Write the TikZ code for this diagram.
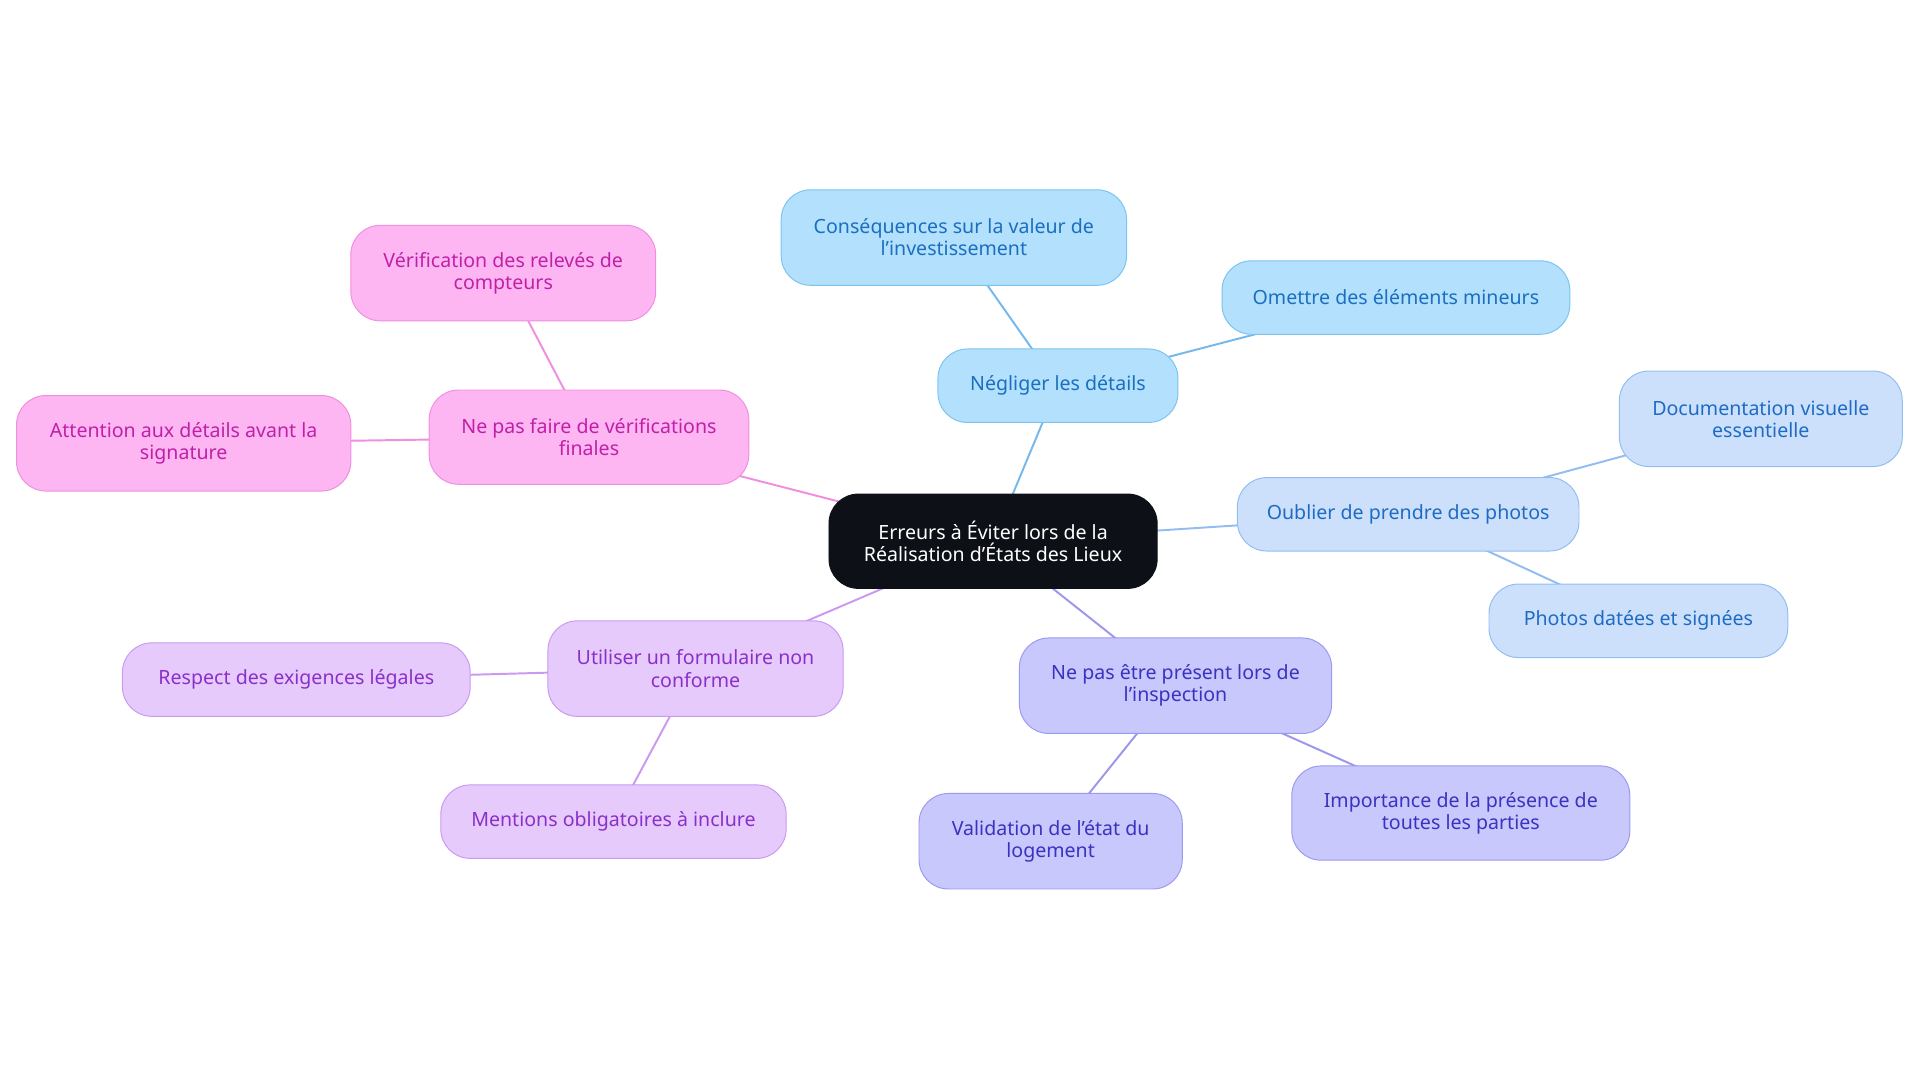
\documentclass[tikz,border=0pt]{standalone}
\usepackage{fontspec}
\setmainfont{Noto Sans}
\usetikzlibrary{backgrounds}
\definecolor{cBfill}{HTML}{B3E0FC}\definecolor{cBdraw}{HTML}{7CC4F0}\definecolor{cBtext}{HTML}{1A6FC0}\definecolor{cBline}{HTML}{76B8EC}
\definecolor{cLfill}{HTML}{CCE0FB}\definecolor{cLdraw}{HTML}{92BDF0}\definecolor{cLtext}{HTML}{1E6BC4}\definecolor{cLline}{HTML}{92BDF0}
\definecolor{cPfill}{HTML}{C8C8FC}\definecolor{cPdraw}{HTML}{9A9AF0}\definecolor{cPtext}{HTML}{3A32C0}\definecolor{cPline}{HTML}{9B97EE}
\definecolor{cVfill}{HTML}{E6CAFC}\definecolor{cVdraw}{HTML}{C99AF0}\definecolor{cVtext}{HTML}{8A30C8}\definecolor{cVline}{HTML}{C99AF0}
\definecolor{cKfill}{HTML}{FDB6F2}\definecolor{cKdraw}{HTML}{F08EE0}\definecolor{cKtext}{HTML}{C020A8}\definecolor{cKline}{HTML}{F08EE0}
\definecolor{cC}{HTML}{0D1117}
\tikzset{
 box/.style={rounded corners=24pt, line width=0.8pt, align=center, inner sep=0pt, font=\fontsize{16}{18}\selectfont},
 B/.style={box, fill=cBfill, draw=cBdraw, text=cBtext},
 L/.style={box, fill=cLfill, draw=cLdraw, text=cLtext},
 P/.style={box, fill=cPfill, draw=cPdraw, text=cPtext},
 V/.style={box, fill=cVfill, draw=cVdraw, text=cVtext},
 K/.style={box, fill=cKfill, draw=cKdraw, text=cKtext},
 sz/.style 2 args={minimum width=#1pt, minimum height=#2pt},
 edge/.style={line width=1.6pt}
}
\begin{document}
\begin{tikzpicture}[x=1pt,y=-1pt]
\useasboundingbox (0,0) rectangle (1568,884);
\node[box, fill=cC, draw=cC, text=white, sz={268}{77}] (c) at (811,442) {Erreurs à Éviter lors de la\\Réalisation d'États des Lieux};
\node[B, sz={196}{60}] (n1) at (864,315) {Négliger les détails};
\node[B, sz={282}{78}] (n11) at (779,194) {Conséquences sur la valeur de\\l'investissement};
\node[B, sz={284}{60}] (n12) at (1140,243) {Omettre des éléments mineurs};
\node[L, sz={279}{60}] (n2) at (1150,420) {Oublier de prendre des photos};
\node[L, sz={231}{78}] (n21) at (1438,342) {Documentation visuelle\\essentielle};
\node[L, sz={244}{60}] (n22) at (1338,507) {Photos datées et signées};
\node[P, sz={255}{78}] (n3) at (960,560) {Ne pas être présent lors de\\l'inspection};
\node[P, sz={215}{78}] (n31) at (858,687) {Validation de l'état du\\logement};
\node[P, sz={276}{77}] (n32) at (1193,664) {Importance de la présence de\\toutes les parties};
\node[V, sz={241}{78}] (n4) at (568,546) {Utiliser un formulaire non\\conforme};
\node[V, sz={284}{60}] (n41) at (242,555) {Respect des exigences légales};
\node[V, sz={282}{60}] (n42) at (501,671) {Mentions obligatoires à inclure};
\node[K, sz={261}{77}] (n5) at (481,357) {Ne pas faire de vérifications\\finales};
\node[K, sz={249}{78}] (n51) at (411,223) {Vérification des relevés de\\compteurs};
\node[K, sz={273}{78}] (n52) at (150,362) {Attention aux détails avant la\\signature};
\begin{scope}[on background layer]
\draw[edge, cBline] (c.center)--(n1.center) (n1.center)--(n11.center) (n1.center)--(n12.center);
\draw[edge, cLline] (c.center)--(n2.center) (n2.center)--(n21.center) (n2.center)--(n22.center);
\draw[edge, cPline] (c.center)--(n3.center) (n3.center)--(n31.center) (n3.center)--(n32.center);
\draw[edge, cVline] (c.center)--(n4.center) (n4.center)--(n41.center) (n4.center)--(n42.center);
\draw[edge, cKline] (c.center)--(n5.center) (n5.center)--(n51.center) (n5.center)--(n52.center);
\end{scope}
\end{tikzpicture}
\end{document}
